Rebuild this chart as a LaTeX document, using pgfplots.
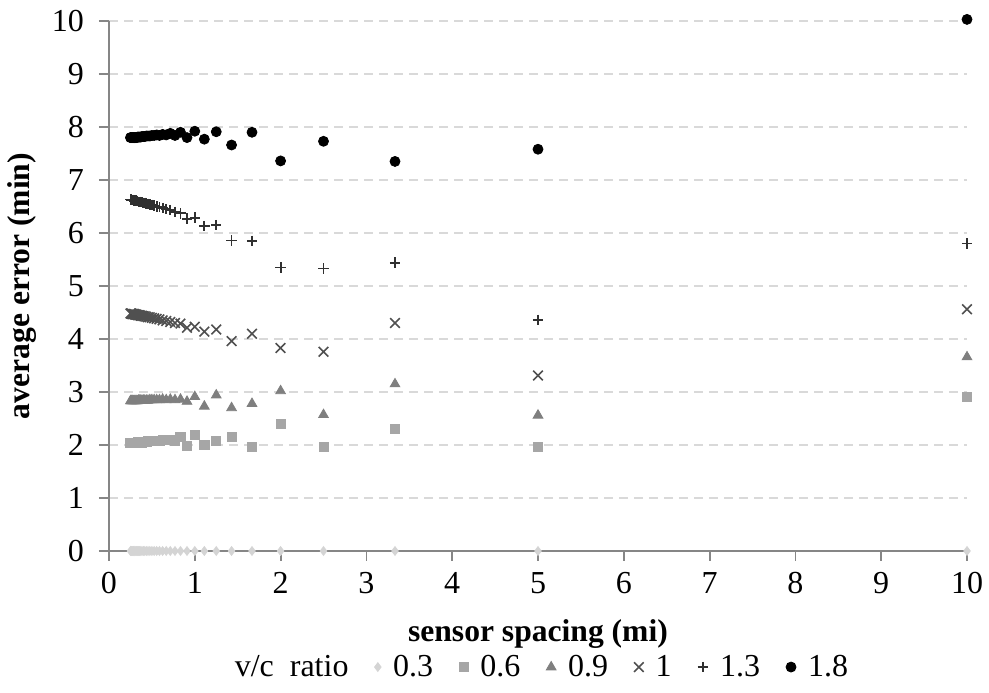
\documentclass[border=0pt]{standalone}
\usepackage{pgfplots}
\usepackage{pgfplotstable}
\pgfplotsset{compat=1.18}
\usepackage{fontspec}
\setmainfont{Liberation Serif}

\definecolor{cA}{HTML}{D4D4D4}
\definecolor{cB}{HTML}{A6A6A6}
\definecolor{cC}{HTML}{7F7F7F}
\definecolor{cD}{HTML}{505050}
\definecolor{cE}{HTML}{303030}
\definecolor{cF}{HTML}{000000}
\definecolor{axgray}{HTML}{868686}
\definecolor{gridgray}{HTML}{D9D9D9}

\pgfplotstableread{
x      a    b     c     d     e     f
10     0    2.90  3.66  4.56  5.80  10.03
5      0    1.97  2.56  3.31  4.36  7.58
3.3333 0    2.30  3.15  4.30  5.44  7.35
2.5    0    1.97  2.57  3.76  5.33  7.73
2      0    2.40  3.02  3.83  5.35  7.36
1.6667 0    1.97  2.78  4.10  5.85  7.90
1.4286 0    2.16  2.70  3.96  5.86  7.66
1.25   0    2.08  2.94  4.18  6.15  7.91
1.1111 0    2.00  2.73  4.14  6.13  7.77
1      0    2.19  2.91  4.23  6.29  7.92
0.9091 0    1.99  2.82  4.21  6.27  7.80
0.8333 0    2.15  2.86  4.29  6.37  7.90
0.7692 0    2.08  2.85  4.30  6.40  7.84
0.7143 0    2.09  2.86  4.32  6.43  7.88
0.6667 0    2.10  2.85  4.34  6.45  7.85
0.625  0    2.09  2.86  4.35  6.47  7.86
0.5882 0    2.08  2.85  4.37  6.49  7.84
0.5556 0    2.08  2.85  4.38  6.50  7.85
0.5263 0    2.08  2.85  4.39  6.52  7.84
0.5    0    2.07  2.85  4.40  6.53  7.84
0.4762 0    2.07  2.85  4.41  6.54  7.83
0.4545 0    2.07  2.84  4.41  6.55  7.83
0.4348 0    2.06  2.84  4.42  6.56  7.83
0.4167 0    2.06  2.84  4.43  6.57  7.82
0.4    0    2.06  2.84  4.43  6.57  7.82
0.3846 0    2.05  2.84  4.44  6.58  7.82
0.3704 0    2.05  2.84  4.44  6.58  7.81
0.3571 0    2.05  2.84  4.45  6.59  7.81
0.3448 0    2.05  2.84  4.45  6.59  7.81
0.3333 0    2.05  2.83  4.45  6.60  7.81
0.3226 0    2.04  2.83  4.46  6.60  7.80
0.3125 0    2.04  2.83  4.46  6.61  7.80
0.3030 0    2.04  2.83  4.46  6.61  7.80
0.2941 0    2.04  2.83  4.47  6.61  7.80
0.2857 0    2.04  2.83  4.47  6.62  7.80
0.2778 0    2.04  2.83  4.47  6.62  7.80
0.2703 0    2.04  2.83  4.47  6.62  7.80
0.2632 0    2.04  2.83  4.48  6.62  7.80
0.2564 0    2.04  2.83  4.48  6.63  7.80
0.25   0    2.04  2.83  4.48  6.63  7.80
}\datatable

\begin{document}
\begin{tikzpicture}[font=\fontsize{16pt}{19pt}\selectfont]
\begin{axis}[
  name=ax,
  scale only axis,
  width=429pt, height=265pt,
  xmin=0, xmax=10, ymin=0, ymax=10,
  xtick={0,1,...,10}, ytick={0,1,...,10},
  axis x line*=bottom, axis y line*=left,
  axis line style={axgray, line width=0.9pt},
  tick align=outside, major tick length=5pt,
  tick style={axgray, line width=0.9pt},
  ymajorgrids,
  major grid style={gridgray, line width=0.8pt, dash pattern=on 4.5pt off 3pt},
  /pgf/number format/assume math mode=true,
  x tick label style={yshift=-2pt},
  y tick label style={xshift=-4pt},
  clip=false,
  xlabel={sensor spacing (mi)},
  ylabel={average error (min)},
  xlabel style={font=\fontsize{15.8pt}{18pt}\selectfont\bfseries, at={(axis description cs:0.5,-0.1566)}, anchor=center},
  ylabel style={font=\fontsize{15.8pt}{18pt}\selectfont\bfseries, at={(axis description cs:-0.1014,0.5)}, anchor=center},
  legend columns=-1,
  legend style={draw=none, fill=none, at={(axis description cs:0.497,-0.219)}, anchor=center,
    font=\fontsize{16pt}{19pt}\selectfont,
    nodes={inner xsep=0pt},
    /tikz/every odd column/.append style={column sep=6pt},
    /tikz/every even column/.append style={column sep=13pt}},
  legend image code/.code={\draw[#1] plot coordinates {(0pt,0pt)};},
  legend entries={v/c\ \ ratio\hspace{24pt},0.3,0.6,0.9,1,1.3,1.8},
]
\addlegendimage{empty legend}
\addplot[only marks, mark=diamond*, mark size=2.2pt, draw=cA, fill=cA] table[x=x,y=a]{\datatable};
\addplot[only marks, mark=square*, mark size=2.3pt, draw=cB, fill=cB] table[x=x,y=b]{\datatable};
\addplot[only marks, mark=triangle*, mark size=2.8pt, draw=cC, fill=cC] table[x=x,y=c]{\datatable};
\addplot[only marks, mark=x, mark size=3.4pt, draw=cD, line width=0.8pt] table[x=x,y=d]{\datatable};
\addplot[only marks, mark=+, mark size=2.6pt, draw=cE, line width=0.9pt] table[x=x,y=e]{\datatable};
\addplot[only marks, mark=*, mark size=2.5pt, draw=cF, fill=cF] table[x=x,y=f]{\datatable};
\end{axis}
\pgfresetboundingbox
\path[use as bounding box] ([xshift=-54.5pt,yshift=-71pt]ax.south west) rectangle ([xshift=11pt,yshift=10.5pt]ax.north east);
\end{tikzpicture}
\end{document}
